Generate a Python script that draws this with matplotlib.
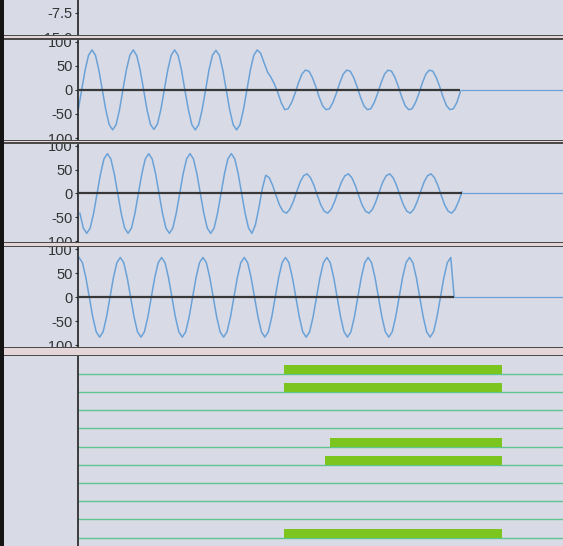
import matplotlib.pyplot as plt
from matplotlib.patches import Rectangle
import numpy as np

plt.rcParams['font.family'] = ['Liberation Sans', 'DejaVu Sans']

W, H = 563, 546          # output size in px
BG = '#d8dae5'
WAVE = '#6aa2d8'
AXIS_X = 78              # left edge of the plotting area, px

# time axis shared by all tracks (arbitrary units)
T_MAX = 484.7
DT = 3.44

# track 1: loud tone, then a quieter one
t0_a = 0.23
wave_a = [
    -41, 0, 41, 72, 83, 72, 41, 0, -41, -72, -83, -72,
    -41, 1, 42, 72, 83, 71, 41, 0, -42, -72, -82, -71,
    -41, 0, 41, 72, 83, 72, 41, -1, -41, -72, -83, -72,
    -41, 0, 42, 72, 82, 72, 41, 0, -41, -72, -83, -72,
    -41, 0, 41, 72, 83,
    76, 56, 37, 26, 12, -6, -27, -41,
    -39, -26, -7, 15, 33, 41, 39, 26, 7, -15, -33, -41,
    -39, -26, -7, 15, 33, 41, 39, 26, 7, -15, -33, -41,
    -39, -26, -7, 15, 33, 41, 39, 26, 7, -15, -33, -41,
    -39, -26, -7, 15, 33, 41, 39, 26, 7, -15, -33, -41,
    -39, -26, -4,
]

# track 2: loud tone, then a quieter one (other phase)
t0_b = 1.87
wave_b = [
    -41, -72, -83, -72, -41, 0, 41, 72, 83, 72, 41, 0,
    -41, -72, -83, -72, -41, 0, 41, 72, 83, 72, 41, 0,
    -41, -72, -83, -72, -41, 0, 41, 72, 83, 72, 41, 0,
    -41, -72, -83, -72, -41, 0, 41, 72, 83, 72, 41, 0,
    -41, -72, -83,
    -65, -30, 10, 38,
    33, 17, -4, -24, -37, -41, -33, -17, 4, 24, 37, 41,
    33, 17, -4, -24, -37, -41, -33, -17, 4, 24, 37, 41,
    33, 17, -4, -24, -37, -41, -33, -17, 4, 24, 37, 41,
    33, 17, -4, -24, -37, -41, -33, -17, 4, 24, 37, 41,
    33, 17, -4, -24, -37, -41, -33, -17, 3,
]

# track 3: steady tone
t0_c = 1.0
wave_c = [
    83, 72, 41, 0, -41, -72, -83, -72, -41, 0, 41, 72,
    83, 72, 41, 0, -41, -72, -83, -72, -41, 0, 41, 72,
    83, 72, 41, 0, -41, -72, -83, -72, -41, 0, 41, 72,
    83, 72, 41, 0, -41, -72, -83, -72, -41, 0, 41, 72,
    83, 72, 41, 0, -41, -72, -83, -72, -41, 0, 41, 72,
    83, 72, 41, 0, -41, -72, -83, -72, -41, 0, 41, 72,
    83, 72, 41, 0, -41, -72, -83, -72, -41, 0, 41, 72,
    83, 72, 41, 0, -41, -72, -83, -72, -41, 0, 41, 72,
    83, 72, 41, 0, -41, -72, -83, -72, -41, 0, 41, 72,
    83, 0,
]

wave_ticks = [100, 50, 0, -50, -100]
top_ticks = [-7.5, -15.0]

# note lane
n_rows = 10
note_rows = [0, 1, 4, 5, 9]
note_start = [206, 206, 252, 247, 206]
note_end = [424, 424, 424, 424, 424]

# panel extents in px (top, bottom) and y limits
panels = [(0, 39.5), (39.5, 140.6), (143.2, 242.5), (246.5, 347.5), (355.3, 546)]
ylims = [(-15.78, -3.44), (-105.2, 104.6), (-102.1, 104.8), (-104.6, 105.8), (9.456, -1.017)]
separators = [(35.3, 39.2), (140.6, 143.2), (242.5, 246.5), (347.5, 355.3)]

fig = plt.figure(figsize=(W / 100, H / 100), dpi=100, facecolor=BG)


def fig_rect(top, bottom, left=0, right=W):
    return [left / W, 1 - bottom / H, (right - left) / W, (bottom - top) / H]


axes = []
for i, ((top, bottom), yl) in enumerate(zip(panels, ylims)):
    fig.add_artist(Rectangle(fig_rect(top, bottom)[:2], 1, (bottom - top) / H,
                             transform=fig.transFigure, facecolor=BG,
                             edgecolor='none', zorder=2 * i + 0.5))
    ax = fig.add_axes(fig_rect(top, bottom, AXIS_X), zorder=2 * i + 1)
    ax.set_facecolor(BG)
    ax.set_xlim(0, T_MAX)
    ax.set_ylim(*yl)
    for s in ['top', 'right', 'bottom']:
        ax.spines[s].set_visible(False)
    ax.spines['left'].set_color('#222222')
    ax.spines['left'].set_linewidth(1.2)
    ax.set_xticks([])
    ax.tick_params(axis='y', direction='out', length=2.5, width=0.8,
                   pad=1.5, labelsize=10.5, colors='#333333')
    axes.append(ax)

# top track (scale only)
axes[0].set_yticks(top_ticks, [f'{v:.1f}' for v in top_ticks])

# waveform tracks
for ax, t0, wave in zip(axes[1:4], [t0_a, t0_b, t0_c], [wave_a, wave_b, wave_c]):
    t = t0 + DT * np.arange(len(wave))
    ax.hlines(0, t[-1], T_MAX, color=WAVE, linewidth=0.9)
    ax.plot(t, wave, color=WAVE, linewidth=1.1, solid_joinstyle='round')
    ax.hlines(0, 0, t[-1], color='#383838', linewidth=1.6, zorder=3)
    ax.set_yticks(wave_ticks, [str(v) for v in wave_ticks])

# note lane
ax = axes[4]
ax.set_yticks([])
ax.hlines(np.arange(n_rows), 0, T_MAX, color='#5fc48f', linewidth=1.0)
ax.barh(np.array(note_rows) - 0.235, np.array(note_end) - np.array(note_start),
        left=note_start, height=0.47, color='#7cc41e', zorder=3)

# panel separators
for top, bottom in separators:
    fig.add_artist(Rectangle((0, 1 - bottom / H), 1, (bottom - top) / H,
                             transform=fig.transFigure, facecolor='#e3d5d8',
                             edgecolor='none', zorder=100))
    for y in (top, bottom):
        fig.add_artist(Rectangle((0, 1 - (y + 0.7) / H), 1, 1.4 / H,
                                 transform=fig.transFigure, facecolor='#4a4a4a',
                                 edgecolor='none', zorder=101))

# dark window edge on the left
fig.add_artist(Rectangle((0, 0), 3.5 / W, 1, transform=fig.transFigure,
                         facecolor='#141414', edgecolor='none', zorder=102))

fig.savefig('out.png', dpi=100, facecolor=BG)
